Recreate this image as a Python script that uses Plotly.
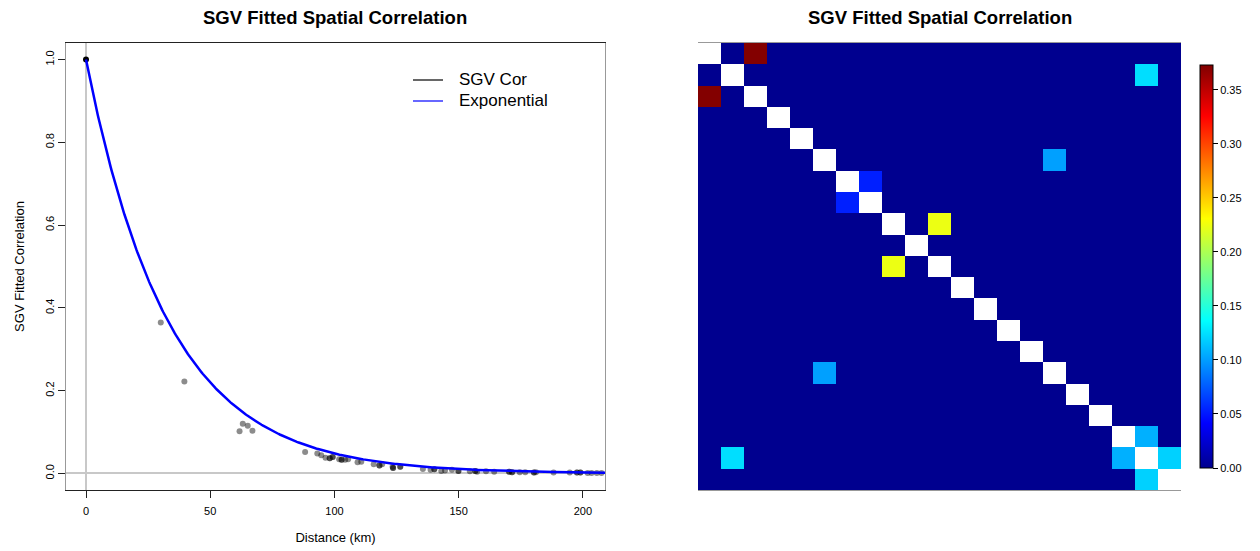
import numpy as np
import plotly.graph_objects as go

# --- Empirical SGV correlation vs. distance ---------------------------------
dist_km = [0.0, 30.1, 39.6, 61.8, 63.1, 65.1, 67.0, 88.2, 93.1, 94.7, 96.4, 98.1,
           98.1, 99.3, 99.3, 101.9, 102.9, 102.9, 104.3, 105.5, 109.3, 110.8,
           115.8, 118.1, 118.1, 119.2, 123.4, 123.6, 123.6, 126.5, 126.5, 135.6,
           138.7, 140.2, 140.2, 143.0, 144.5, 147.3, 149.9, 149.9, 154.5, 156.7,
           156.7, 157.4, 161.0, 164.3, 170.3, 170.3, 171.5, 171.5, 174.6, 176.8,
           180.3, 180.3, 181.1, 188.2, 194.7, 197.6, 197.6, 199.0, 199.0, 201.9,
           203.5, 205.6, 207.5]
sgv_cor = [1.0, 0.365, 0.222, 0.102, 0.120, 0.115, 0.103, 0.052, 0.048, 0.044,
           0.038, 0.037, 0.037, 0.040, 0.040, 0.034, 0.033, 0.033, 0.033, 0.034,
           0.027, 0.028, 0.022, 0.019, 0.019, 0.022, 0.016, 0.013, 0.013, 0.016,
           0.016, 0.011, 0.009, 0.010, 0.010, 0.006, 0.007, 0.009, 0.006, 0.006,
           0.005, 0.006, 0.006, 0.004, 0.005, 0.004, 0.004, 0.004, 0.003, 0.003,
           0.003, 0.003, 0.002, 0.002, 0.003, 0.002, 0.002, 0.002, 0.002, 0.002,
           0.002, 0.001, 0.001, 0.001, 0.001]

# fitted exponential model: rho(d) = exp(-d / range)
exp_range_km = 33.0
x_ticks = [0, 50, 100, 150, 200]
y_ticks = [0.0, 0.2, 0.4, 0.6, 0.8, 1.0]
y_tick_labels = ["0.0", "0.2", "0.4", "0.6", "0.8", "1.0"]
legend_labels = ["SGV Cor", "Exponential"]
legend_colors = ["black", "#0000FF"]

# --- Fitted spatial correlation matrix (21 sites) ---------------------------
n_sites = 21
pair_i = [0, 1, 5, 6, 8, 18, 19]
pair_j = [2, 19, 15, 7, 10, 19, 20]
pair_val = [0.372, 0.124, 0.101, 0.053, 0.224, 0.107, 0.119]
cbar_ticks = [0.00, 0.05, 0.10, 0.15, 0.20, 0.25, 0.30, 0.35]
cor_max = 0.373

corr = np.zeros((n_sites, n_sites))
for i, j, v in zip(pair_i, pair_j, pair_val):
    corr[i, j] = v
    corr[j, i] = v
np.fill_diagonal(corr, np.nan)

jet = [[0.0, "#00008F"], [7 / 63, "#0000FF"], [23 / 63, "#00FFFF"],
       [39 / 63, "#FFFF00"], [55 / 63, "#FF0000"], [1.0, "#800000"]]

FONT = "Liberation Sans, Arial, sans-serif"
W, H = 1260, 551

fig = go.Figure()

# points (pale grey, overlapping points darken)
fig.add_trace(go.Scatter(
    x=dist_km[1:], y=sgv_cor[1:], mode="markers", showlegend=False,
    marker=dict(size=6, color="rgba(0,0,0,0.45)", line=dict(width=0)),
    xaxis="x", yaxis="y"))
fig.add_trace(go.Scatter(
    x=dist_km[:1], y=sgv_cor[:1], mode="markers", showlegend=False,
    marker=dict(size=6, color="black", line=dict(width=0)),
    xaxis="x", yaxis="y"))

d_fit = np.linspace(0, 215, 500)
fig.add_trace(go.Scatter(
    x=d_fit, y=np.exp(-d_fit / exp_range_km), mode="lines", showlegend=False,
    line=dict(color="#0000FF", width=2.5), xaxis="x", yaxis="y"))

fig.add_trace(go.Heatmap(
    z=corr, colorscale=jet, zmin=0, zmax=cor_max, xaxis="x2", yaxis="y2",
    showscale=True, hoverongaps=False,
    colorbar=dict(x=1200 / W, xanchor="left", thickness=13, xpad=0, ypad=0,
                  len=(468 - 65) / H, lenmode="fraction",
                  y=1 - 266.5 / H, yanchor="middle",
                  outlinecolor="black", outlinewidth=1,
                  tickvals=cbar_ticks, tickformat=".2f", ticks="outside",
                  ticklen=5, tickcolor="black",
                  tickfont=dict(size=11, family=FONT, color="black"))))

y_dom = [1 - 490 / H, 1 - 43 / H]

# legend drawn as key lines + labels inside the left panel
legend_shapes, legend_notes = [], []
for k, (lab, col) in enumerate(zip(legend_labels, legend_colors)):
    yk = 1 - (80 + 21 * k) / H
    legend_shapes.append(dict(type="line", xref="paper", yref="paper",
                              x0=413 / W, x1=443 / W, y0=yk, y1=yk,
                              line=dict(color=col, width=1.2)))
    legend_notes.append(dict(text=lab, x=457 / W, y=yk, xref="paper", yref="paper",
                             showarrow=False, xanchor="left", yanchor="middle",
                             font=dict(size=17)))

fig.update_layout(
    width=W, height=H, margin=dict(l=0, r=0, t=0, b=0),
    paper_bgcolor="white", plot_bgcolor="white", showlegend=False,
    font=dict(family=FONT, color="black"),
    xaxis=dict(domain=[66 / W, 605 / W], range=[-8.05, 208.9],
               tickvals=x_ticks, ticks="outside", ticklen=7, tickcolor="#222",
               ticklabelstandoff=4,
               showline=True, linecolor="#222", linewidth=1, mirror=True,
               showgrid=False, zeroline=True, zerolinecolor="#C8C8C8",
               zerolinewidth=1.5, tickfont=dict(size=11),
               title=dict(text="Distance (km)", font=dict(size=13), standoff=16)),
    yaxis=dict(domain=y_dom, range=[-0.04, 1.04], tickvals=y_ticks,
               ticktext=y_tick_labels, tickangle=-90,
               ticks="outside", ticklen=7, tickcolor="#222",
               showline=True, linecolor="#222", linewidth=1, mirror=True,
               showgrid=False, zeroline=True, zerolinecolor="#C8C8C8",
               zerolinewidth=1.5, tickfont=dict(size=11),
               title=dict(text="SGV Fitted Correlation", font=dict(size=13), standoff=16)),
    xaxis2=dict(domain=[698 / W, 1181 / W], range=[-0.5, n_sites - 0.5],
                showticklabels=False, ticks="", showgrid=False, zeroline=False,
                showline=True, linecolor="#999", linewidth=1, mirror=True),
    yaxis2=dict(domain=y_dom, range=[n_sites - 0.5, -0.5],
                showticklabels=False, ticks="", showgrid=False, zeroline=False,
                showline=True, linecolor="#999", linewidth=1, mirror=True),
    shapes=legend_shapes,
    annotations=legend_notes + [
        dict(text="<b>SGV Fitted Spatial Correlation</b>", x=335 / W, y=1 - 17 / H,
             xref="paper", yref="paper", showarrow=False, font=dict(size=18.5),
             xanchor="center", yanchor="middle"),
        dict(text="<b>SGV Fitted Spatial Correlation</b>", x=940 / W, y=1 - 17 / H,
             xref="paper", yref="paper", showarrow=False, font=dict(size=18.5),
             xanchor="center", yanchor="middle"),
    ],
)

fig.write_html("out.html")
